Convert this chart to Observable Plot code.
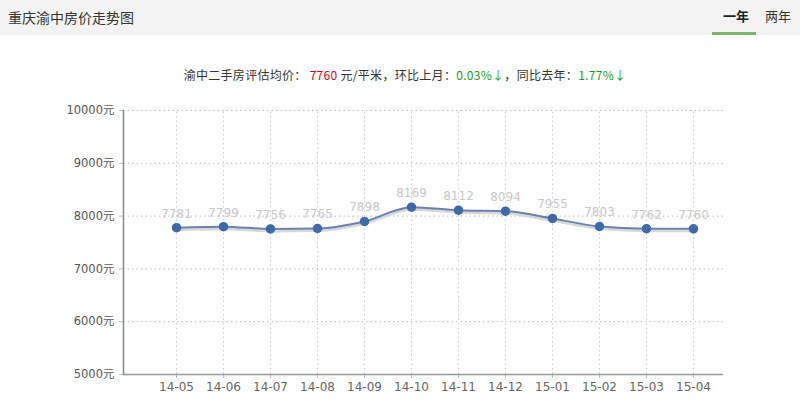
<!DOCTYPE html>
<html><head><meta charset="utf-8">
<script src="https://cdn.jsdelivr.net/npm/d3@7"></script>
<script src="https://cdn.jsdelivr.net/npm/@observablehq/plot@0.6"></script>
<style>
body{margin:0;width:800px;height:413px;overflow:hidden;background:#fff;font-family:"Noto Sans CJK SC","Noto Sans",sans-serif;}
#hdr{position:relative;height:35px;background:#f3f3f3;}
#title{position:absolute;left:8px;top:7px;font-size:14px;color:#333;}
#t1{position:absolute;left:723px;top:6px;font-size:13px;color:#222;font-weight:bold;}
#t2{position:absolute;left:765px;top:6px;font-size:13px;color:#333;}
#uline{position:absolute;left:712px;top:32px;width:44px;height:3px;background:#7cb66a;}
#sub{height:53px;text-align:center;font-size:12px;color:#333;line-height:16px;box-sizing:border-box;position:relative;}
#sub span.in{position:absolute;left:0;right:0;top:32px;padding-left:10px;letter-spacing:0.3px;}
.red{color:#d0021b}.grn{color:#1b9e1b}
</style></head><body>
<div id="hdr"><div id="title">重庆渝中房价走势图</div><div id="t1">一年</div><div id="t2">两年</div><div id="uline"></div></div>
<div id="sub"><span class="in">渝中二手房评估均价： <span class="red">7760</span> 元/平米，环比上月：<span class="grn">0.03%↓</span>，同比去年：<span class="grn">1.77%↓</span></span></div>
<div id="chart"></div>
<script>
const months = ["14-05","14-06","14-07","14-08","14-09","14-10","14-11","14-12","15-01","15-02","15-03","15-04"];
const prices = [7781,7799,7756,7765,7898,8169,8112,8094,7955,7803,7762,7760];
const yTicks = [5000,6000,7000,8000,9000,10000];

const data = months.map((m,i)=>({m, v: prices[i]}));
const numFont = '"DejaVu Sans","Noto Sans CJK SC",sans-serif';

const plot = Plot.plot({
  width: 800,
  height: 325,
  marginLeft: 123,
  marginRight: 77,
  marginTop: 22,
  marginBottom: 39,
  style: {fontFamily: numFont, fontSize: "12px", background: "transparent"},
  x: {type: "point", domain: months, range: [172, 697], padding: 0},
  y: {domain: [5000, 10000], label: null},
  marks: [
    Plot.ruleY(yTicks.filter(d=>d>5000), {stroke: "#bbb", strokeDasharray: "1.5,3", strokeWidth: 1}),
    Plot.ruleX(months, {x: d=>d, y1: 5000, y2: 10000, stroke: "#ccc", strokeDasharray: "1.5,3", strokeWidth: 1}),
    Plot.axisY({ticks: yTicks, tickFormat: d => d + "元", tickSize: 4, tickPadding: 5, stroke: "#a9c0da", color: "#555", fontSize: 11.5, label: null}),
    Plot.axisX({ticks: months, tickSize: 4, tickPadding: 4, stroke: "#a9c0da", fill: "#666", fontSize: 12, label: null}),
    Plot.frame({anchor: "left", stroke: "#888", strokeWidth: 1.5}),
    Plot.ruleY([5000], {stroke: "#999", strokeWidth: 1.5}),
    Plot.line(data, {x: "m", y: "v", curve: "monotone-x", stroke: "#d8d8d8", strokeWidth: 3, dy: 2}),
    Plot.line(data, {x: "m", y: "v", curve: "monotone-x", stroke: "#6a82ad", strokeWidth: 2}),
    Plot.dot(data, {x: "m", y: "v", r: 4, fill: "#3f6aa8", stroke: "#3f6aa8"}),
    Plot.text(data, {x: "m", y: "v", text: d => String(d.v), dy: -14, fill: "#c8c8c8", fontSize: 12})
  ]
});
document.getElementById("chart").appendChild(plot);
</script>
</body></html>
